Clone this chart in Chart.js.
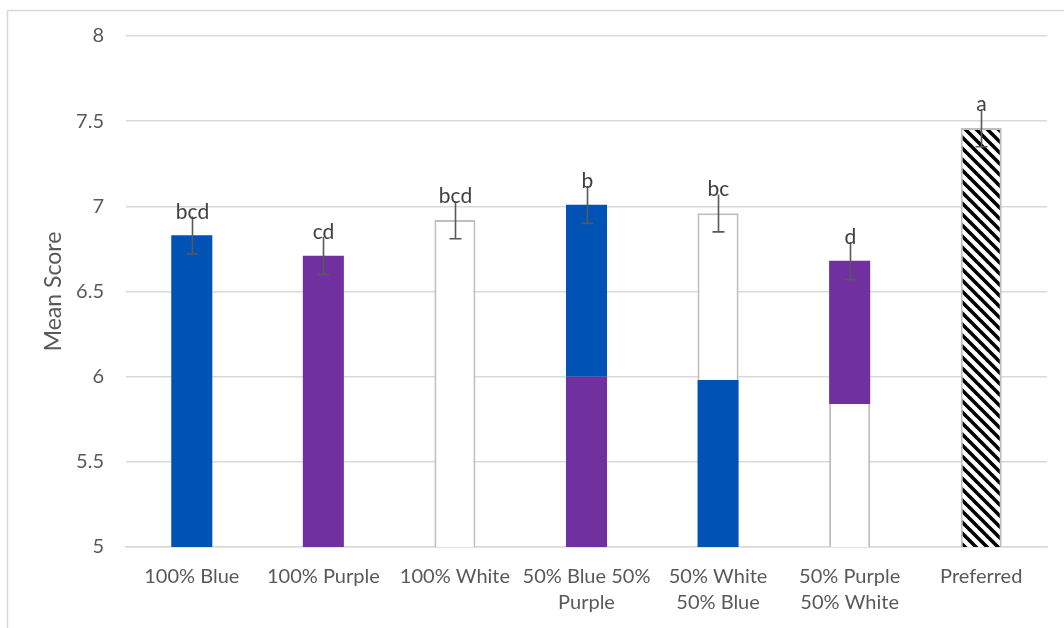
<!DOCTYPE html>
<html>
<head>
<meta charset="utf-8">
<script src="https://cdn.jsdelivr.net/npm/chart.js@4/dist/chart.umd.min.js"></script>
<style>
  html, body { margin: 0; padding: 0; background: #fff; }
  #wrap { width: 1064px; height: 628px; position: relative; }
</style>
</head>
<body>
<div id="wrap"><canvas id="c" width="1064" height="628"></canvas></div>
<script>
// Treatments along the x axis (multi-line where the label wraps)
const categories = [
  ["100% Blue"],
  ["100% Purple"],
  ["100% White"],
  ["50% Blue 50%", "Purple"],
  ["50% White", "50% Blue"],
  ["50% Purple", "50% White"],
  ["Preferred"]
];
// Mean score of each treatment (top of the bar)
const meanScores = [6.83, 6.71, 6.92, 7.01, 6.96, 6.68, 7.46];
// Where the lower colour of a two-colour bar ends
const splitPoints = [null, null, null, 6.00, 5.98, 5.84, null];
// Standard error shown as whiskers
const stdErrors = [0.11, 0.11, 0.11, 0.11, 0.11, 0.11, 0.11];
// Significance letters printed above each whisker
const letters = ["bcd", "cd", "bcd", "b", "bc", "d", "a"];
// Y axis range and step
const yMin = 5, yMax = 8, yStep = 0.5;

// Fill styles
const BLUE = "#0052B4", PURPLE = "#7030A0", WHITE = "#FFFFFF", OUTLINE = "#BFBFBF";

function hatchPattern() {
  const s = 11;
  const tile = document.createElement("canvas");
  tile.width = s; tile.height = s;
  const t = tile.getContext("2d");
  t.fillStyle = "#fff";
  t.fillRect(0, 0, s, s);
  t.strokeStyle = "#000";
  t.lineWidth = 3.6;
  for (const o of [-s, 0, s]) {
    t.beginPath();
    t.moveTo(o - 1, -1);
    t.lineTo(o + s + 1, s + 1);
    t.stroke();
  }
  return t.createPattern(tile, "repeat");
}
const HATCH = hatchPattern();

// Lower / single-colour segment and upper segment fills per bar
const lowerFills = [BLUE, PURPLE, WHITE, PURPLE, BLUE, WHITE, HATCH];
const upperFills = [null, null, null, BLUE, WHITE, PURPLE, null];
const isOutlined = (fill) => fill === WHITE || fill === HATCH;

const lowerData = meanScores.map((v, i) => [yMin, splitPoints[i] == null ? v : splitPoints[i]]);
const upperData = meanScores.map((v, i) => splitPoints[i] == null ? null : [splitPoints[i], v]);

const FONT = "Lato, 'Open Sans', sans-serif";

const frame = {
  id: "frame",
  beforeDraw(chart) {
    const ctx = chart.ctx;
    ctx.save();
    ctx.fillStyle = "#fff";
    ctx.fillRect(0, 0, chart.width, chart.height);
    ctx.strokeStyle = "#D9D9D9";
    ctx.lineWidth = 1.5;
    ctx.strokeRect(7.5, 10.5, chart.width + 20, chart.height + 20);
    ctx.restore();
  }
};

const whiskers = {
  id: "whiskers",
  afterDatasetsDraw(chart) {
    const ctx = chart.ctx;
    const x = chart.scales.x, y = chart.scales.y;
    ctx.save();
    ctx.strokeStyle = "#595959";
    ctx.lineWidth = 1.6;
    ctx.fillStyle = "#404040";
    ctx.font = "21px " + FONT;
    ctx.textAlign = "center";
    ctx.textBaseline = "alphabetic";
    meanScores.forEach((v, i) => {
      const px = Math.round(x.getPixelForValue(i)) + 0.5;
      const hi = y.getPixelForValue(v + stdErrors[i]);
      const lo = y.getPixelForValue(v - stdErrors[i]);
      ctx.beginPath();
      ctx.moveTo(px, hi); ctx.lineTo(px, lo);
      ctx.moveTo(px - 6, lo); ctx.lineTo(px + 6, lo);
      ctx.stroke();
      ctx.fillText(letters[i], px, hi + 2);
    });
    ctx.restore();
  }
};

new Chart(document.getElementById("c"), {
  type: "bar",
  data: {
    labels: categories,
    datasets: [
      {
        data: lowerData,
        grouped: false,
        backgroundColor: lowerFills,
        borderColor: OUTLINE,
        borderWidth: (c) => {
          if (!isOutlined(lowerFills[c.dataIndex])) return 0;
          return upperFills[c.dataIndex]
            ? { left: 2, right: 2, top: 0, bottom: 0 }
            : { left: 2, right: 2, top: 2, bottom: 0 };
        },
        borderSkipped: false,
        categoryPercentage: 1,
        barPercentage: 0.312
      },
      {
        data: upperData,
        grouped: false,
        backgroundColor: upperFills,
        borderColor: OUTLINE,
        borderWidth: (c) => isOutlined(upperFills[c.dataIndex])
          ? { left: 2, right: 2, top: 2, bottom: 0 } : 0,
        borderSkipped: false,
        categoryPercentage: 1,
        barPercentage: 0.312
      }
    ]
  },
  options: {
    responsive: false,
    animation: false,
    devicePixelRatio: 1,
    layout: { padding: { top: 36, right: 17, bottom: 0, left: 0 } },
    plugins: { legend: { display: false }, tooltip: { enabled: false } },
    scales: {
      x: {
        grid: { display: false, drawTicks: false },
        border: { display: true, color: "#D9D9D9", width: 1.5 },
        ticks: {
          color: "#595959",
          font: { family: FONT, size: 20, lineHeight: 1.3 },
          padding: 17,
          maxRotation: 0,
          autoSkip: false
        },
        afterFit: (s) => { s.height = 81; }
      },
      y: {
        min: yMin,
        max: yMax,
        grid: { color: "#D9D9D9", lineWidth: 1.5, drawTicks: false },
        border: { display: false },
        ticks: {
          stepSize: yStep,
          color: "#595959",
          font: { family: FONT, size: 20 },
          padding: 22,
          callback: (v) => String(Number(v))
        },
        title: {
          display: true,
          text: "Mean Score",
          color: "#595959",
          font: { family: FONT, size: 23 },
          padding: { top: 40, bottom: 0 }
        },
        afterFit: (s) => { s.width = 126; }
      }
    }
  },
  plugins: [frame, whiskers]
});
</script>
</body>
</html>
